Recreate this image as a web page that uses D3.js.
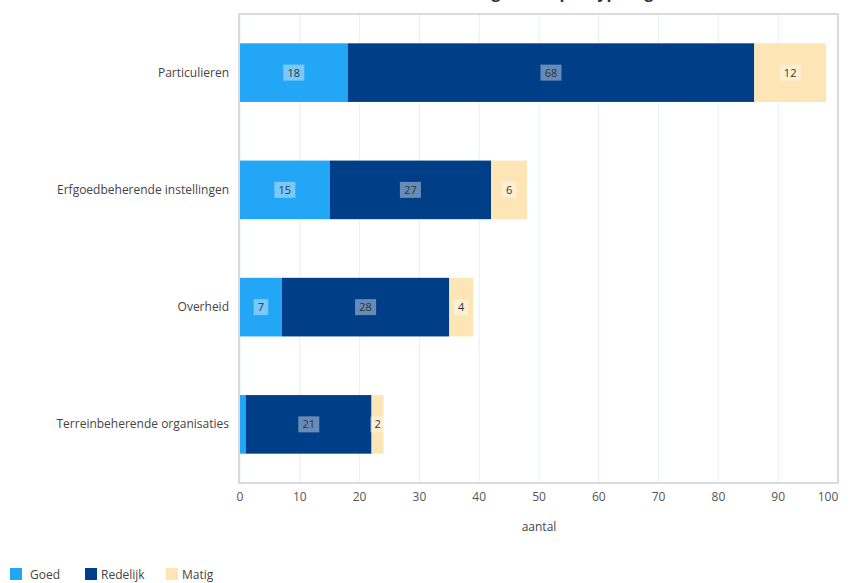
<!DOCTYPE html>
<html>
<head>
<meta charset="utf-8">
<script src="https://cdn.jsdelivr.net/npm/d3@7"></script>
<style>
  body { margin: 0; background: #fff; }
  text { font-family: "Open Sans", "Noto Sans", sans-serif; }
</style>
</head>
<body>
<div id="chart"></div>
<script>
var categories = ["Particulieren", "Erfgoedbeherende instellingen", "Overheid", "Terreinbeherende organisaties"];
var seriesNames = ["Goed", "Redelijk", "Matig"];
var goed = [18, 15, 7, 1];
var redelijk = [68, 27, 28, 21];
var matig = [12, 6, 4, 2];
var xTicks = [0, 10, 20, 30, 40, 50, 60, 70, 80, 90, 100];
var colors = ["#23a6f5", "#003f88", "#fde5b6"];

var width = 853, height = 583;
var plotLeft = 239, plotRight = 838, plotTop = 14, plotBottom = 483;

var svg = d3.select("#chart").append("svg")
    .attr("width", width).attr("height", height);

var rows = categories.map(function(c, i) {
  return {cat: c, Goed: goed[i], Redelijk: redelijk[i], Matig: matig[i]};
});
var stack = d3.stack().keys(seriesNames)(rows);

var x = d3.scaleLinear().domain([0, 100]).range([plotLeft + 1, plotRight]);
var y = d3.scaleBand().domain(categories).range([plotTop, plotBottom]).paddingInner(0.5).paddingOuter(0.25);
var color = d3.scaleOrdinal().domain(seriesNames).range(colors);

// title (cut off at top of the picture)
svg.append("text")
   .attr("x", 445).attr("y", -2)
   .attr("text-anchor", "middle")
   .style("font-size", "16px").style("font-weight", "bold").style("fill", "#333")
   .text("Aantal monumenten naar bouwkundige staat per type eigenaar");

// grid
svg.append("g").selectAll("line")
   .data(xTicks)
   .enter().append("line")
   .attr("x1", function(d) { return x(d); })
   .attr("x2", function(d) { return x(d); })
   .attr("y1", plotTop).attr("y2", plotBottom)
   .style("stroke", "#e3f1f6");

svg.append("rect")
   .attr("x", plotLeft).attr("y", plotTop)
   .attr("width", plotRight - plotLeft).attr("height", plotBottom - plotTop)
   .attr("fill", "none").style("stroke", "#cfcfcf").style("stroke-width", 1.5);

// bars
var layers = svg.selectAll(".layer")
   .data(stack)
   .enter().append("g")
   .attr("class", "layer")
   .attr("fill", function(d) { return color(d.key); });

layers.selectAll("rect")
   .data(function(d) { return d; })
   .enter().append("rect")
   .attr("x", function(d) { return x(d[0]); })
   .attr("width", function(d) { return x(d[1]) - x(d[0]); })
   .attr("y", function(d) { return y(d.data.cat); })
   .attr("height", y.bandwidth());

// data labels
stack.forEach(function(layer) {
  layer.forEach(function(d) {
    var v = d[1] - d[0];
    if (v < 2) return;
    var cx = (x(d[0]) + x(d[1])) / 2;
    var cy = y(d.data.cat) + y.bandwidth() / 2;
    var txt = String(v);
    var w = txt.length * 6.5 + 8;
    svg.append("rect")
       .attr("x", cx - w / 2).attr("y", cy - 8)
       .attr("width", w).attr("height", 16)
       .attr("fill", "rgba(255,255,255,0.4)");
    svg.append("text")
       .attr("x", cx).attr("y", cy + 4)
       .attr("text-anchor", "middle")
       .style("font-size", "11px").style("fill", "#333")
       .text(txt);
  });
});

// category labels
svg.append("g").selectAll("text")
   .data(categories)
   .enter().append("text")
   .attr("x", 229)
   .attr("y", function(d) { return y(d) + y.bandwidth() / 2 + 4; })
   .attr("text-anchor", "end")
   .style("font-size", "12px").style("fill", "#444")
   .text(function(d) { return d; });

// x tick labels
svg.append("g").selectAll("text")
   .data(xTicks)
   .enter().append("text")
   .attr("x", function(d) { return d === 100 ? x(d) - 10 : x(d); })
   .attr("y", 501)
   .attr("text-anchor", "middle")
   .style("font-size", "12px").style("fill", "#555")
   .text(function(d) { return d; });

svg.append("text")
   .attr("x", 539).attr("y", 531)
   .attr("text-anchor", "middle")
   .style("font-size", "12px").style("fill", "#444")
   .text("aantal");

// legend
var legendX = [10, 85, 166];
var lg = svg.selectAll(".legend")
   .data(seriesNames)
   .enter().append("g")
   .attr("class", "legend")
   .attr("transform", function(d, i) { return "translate(" + legendX[i] + ",568)"; });
lg.append("rect")
   .attr("width", 12).attr("height", 12)
   .attr("fill", function(d) { return color(d); });
lg.append("text")
   .attr("x", function(d, i) { return i === 0 ? 20 : 16; }).attr("y", 11)
   .style("font-size", "12px").style("fill", "#444")
   .text(function(d) { return d; });
</script>
</body>
</html>
